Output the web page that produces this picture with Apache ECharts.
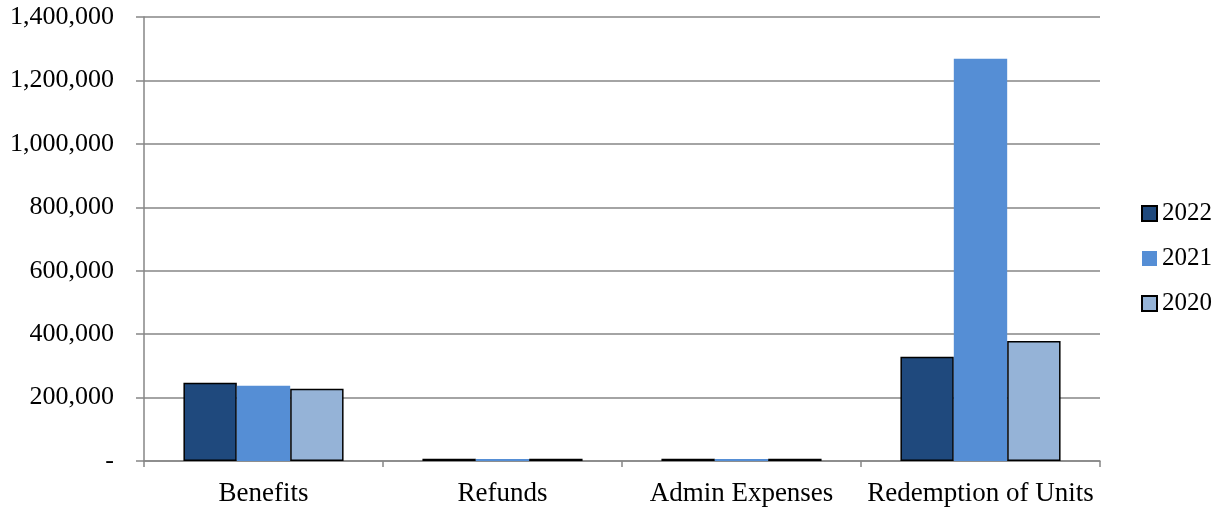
<!DOCTYPE html>
<html><head><meta charset="utf-8">
<script src="https://cdn.jsdelivr.net/npm/echarts@6/dist/echarts.min.js"></script>
<style>html,body{margin:0;padding:0;background:#fff}#c{width:1220px;height:507px}</style>
</head><body><div id="c"></div>
<script>
const categories = ["Benefits", "Refunds", "Admin Expenses", "Redemption of Units"];
const seriesNames = ["2022", "2021", "2020"];
const values2022 = [247000, 7000, 7000, 329000];
const values2021 = [237000, 6000, 6000, 1268000];
const values2020 = [228000, 7000, 7000, 378000];
const yTicks = [0, 200000, 400000, 600000, 800000, 1000000, 1200000, 1400000];

const colors = ["#1F497D", "#558ED5", "#95B3D7"];
const borders = ["#000", "#558ED5", "#000"];
const allValues = [values2022, values2021, values2020];
const font = "'Liberation Serif', 'Times New Roman', serif";

const chart = echarts.init(document.getElementById('c'));
chart.setOption({
  animation: false,
  textStyle: { fontFamily: font },
  grid: { left: 144, right: 120, top: 17, bottom: 45, containLabel: false },
  legend: {
    orient: 'vertical', left: 1136, top: 196,
    icon: 'rect',
    itemWidth: 15, itemHeight: 15, itemGap: 20,
    textStyle: { fontFamily: font, fontSize: 25, color: '#000' },
    data: seriesNames
  },
  xAxis: {
    type: 'category', data: categories,
    axisLine: { lineStyle: { color: '#868686', width: 1.5 } },
    axisTick: { show: true, length: 6, lineStyle: { color: '#868686', width: 1.5 } },
    axisLabel: { fontFamily: font, fontSize: 27, color: '#000', margin: 19, interval: 0 }
  },
  yAxis: {
    type: 'value', min: yTicks[0], max: yTicks[yTicks.length - 1], interval: 200000,
    axisLine: { show: true, lineStyle: { color: '#868686', width: 1.5 } },
    axisTick: { show: true, length: 8, lineStyle: { color: '#868686', width: 1.5 } },
    splitLine: { lineStyle: { color: '#868686', width: 1.5 } },
    axisLabel: {
      fontFamily: font, fontSize: 26, color: '#000', margin: 30,
      formatter: v => v === 0 ? '-' : v.toLocaleString('en-US')
    }
  },
  series: seriesNames.map((n, i) => ({
    name: n, type: 'bar', data: allValues[i],
    barGap: '0%', barCategoryGap: '33%',
    itemStyle: { color: colors[i], borderColor: borders[i], borderWidth: i === 1 ? 0 : 1.5 }
  }))
});
</script></body></html>
